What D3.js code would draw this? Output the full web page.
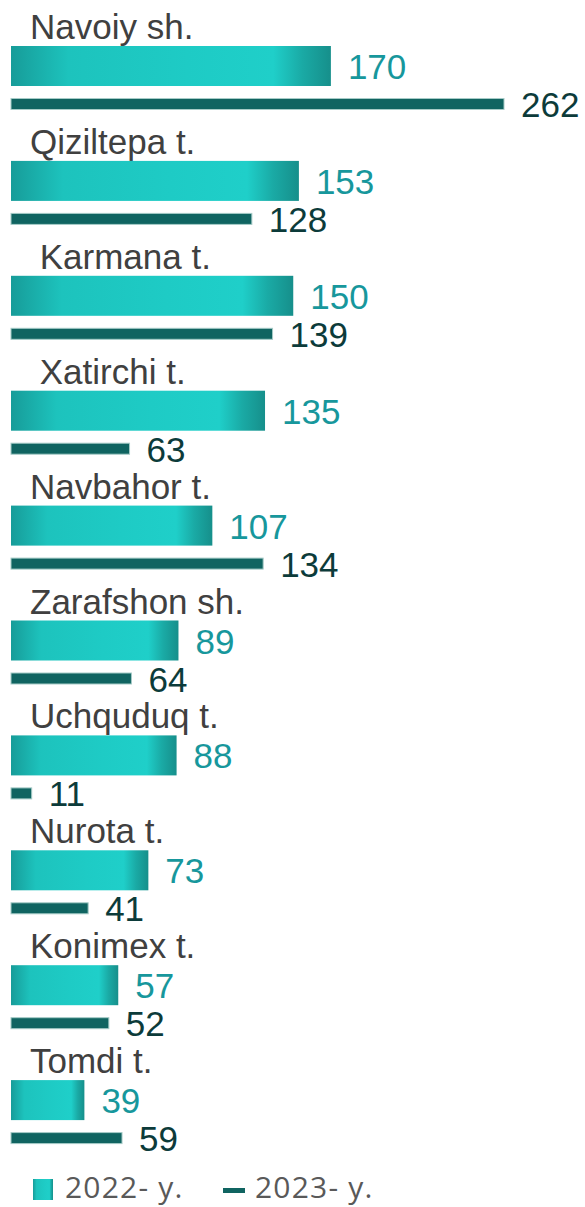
<!DOCTYPE html>
<html>
<head>
<meta charset="utf-8">
<script src="https://cdn.jsdelivr.net/npm/d3@7"></script>
<style>
  body { margin: 0; background: #fff; }
  svg { display: block; }
  .cat { white-space: pre; }
</style>
</head>
<body>
<div id="chart"></div>
<script>
// regions, top to bottom
var categories = ["Navoiy sh.", "Qiziltepa t.", " Karmana t.", " Xatirchi t.", "Navbahor t.",
                  "Zarafshon sh.", "Uchquduq t.", "Nurota t.", "Konimex t.", "Tomdi t."];
var values2022 = [170, 153, 150, 135, 107, 89, 88, 73, 57, 39];
var values2023 = [262, 128, 139, 63, 134, 64, 11, 41, 52, 59];
var seriesNames = ["2022- y.", "2023- y."];

var width = 585, height = 1207;

var svg = d3.select("#chart").append("svg")
      .attr("width", width)
      .attr("height", height);

// gradient for the 2022 bars
var defs = svg.append("defs");
var grad = defs.append("linearGradient")
      .attr("id", "teal")
      .attr("x1", "0").attr("x2", "1").attr("y1", "0").attr("y2", "0");
grad.append("stop").attr("offset", "0%").attr("stop-color", "#179c99");
grad.append("stop").attr("offset", "18%").attr("stop-color", "#1dc3bd");
grad.append("stop").attr("offset", "55%").attr("stop-color", "#1ecbc5");
grad.append("stop").attr("offset", "82%").attr("stop-color", "#1fcfc9");
grad.append("stop").attr("offset", "91%").attr("stop-color", "#1aaaa5");
grad.append("stop").attr("offset", "100%").attr("stop-color", "#168f8b");

var x = d3.scaleLinear().domain([0, 262]).range([11, 504]);
var y = d3.scaleBand().domain(categories).range([46, 46 + 114.9 * categories.length]);

var rows = categories.map(function(c, i) {
  return {cat: c, v22: values2022[i], v23: values2023[i]};
});

var font = "'Liberation Sans', Arial, sans-serif";

var g = svg.selectAll("g.row")
      .data(rows)
    .enter().append("g")
      .attr("class", "row")
      .attr("transform", function(d) { return "translate(0," + y(d.cat) + ")"; });

g.append("text")
  .attr("class", "cat")
  .attr("x", 30)
  .attr("y", -7)
  .style("font-family", font)
  .style("font-size", "35px")
  .style("fill", "#404040")
  .text(function(d) { return d.cat; });

g.append("rect")
  .attr("x", x(0))
  .attr("y", 0)
  .attr("width", function(d) { return x(d.v22) - x(0); })
  .attr("height", 40)
  .style("fill", "url(#teal)");

g.append("text")
  .attr("x", function(d) { return x(d.v22) + 17; })
  .attr("y", 33)
  .style("font-family", font)
  .style("font-size", "35px")
  .style("fill", "#17979c")
  .text(function(d) { return d.v22; });

g.append("rect")
  .attr("x", x(0))
  .attr("y", 52.5)
  .attr("width", function(d) { return x(d.v23) - x(0); })
  .attr("height", 11)
  .style("fill", "#106461")
  .style("stroke", "#a6cbc7")
  .style("stroke-width", 1);

g.append("text")
  .attr("x", function(d) { return x(d.v23) + 17; })
  .attr("y", 71)
  .style("font-family", font)
  .style("font-size", "35px")
  .style("fill", "#0c3b3a")
  .text(function(d) { return d.v23; });

// legend
var legend = svg.append("g").attr("class", "legend");
legend.append("rect")
  .attr("x", 33).attr("y", 1179)
  .attr("width", 20).attr("height", 21)
  .style("fill", "url(#teal)");
legend.append("text")
  .attr("x", 65).attr("y", 1198)
  .style("font-family", "'Open Sans', sans-serif")
  .style("font-size", "30px")
  .style("letter-spacing", "1.2px")
  .style("fill", "#595959")
  .text(seriesNames[0]);
legend.append("rect")
  .attr("x", 223).attr("y", 1188)
  .attr("width", 22).attr("height", 5)
  .style("fill", "#106461");
legend.append("text")
  .attr("x", 255).attr("y", 1198)
  .style("font-family", "'Open Sans', sans-serif")
  .style("font-size", "30px")
  .style("letter-spacing", "1.2px")
  .style("fill", "#595959")
  .text(seriesNames[1]);
</script>
</body>
</html>
